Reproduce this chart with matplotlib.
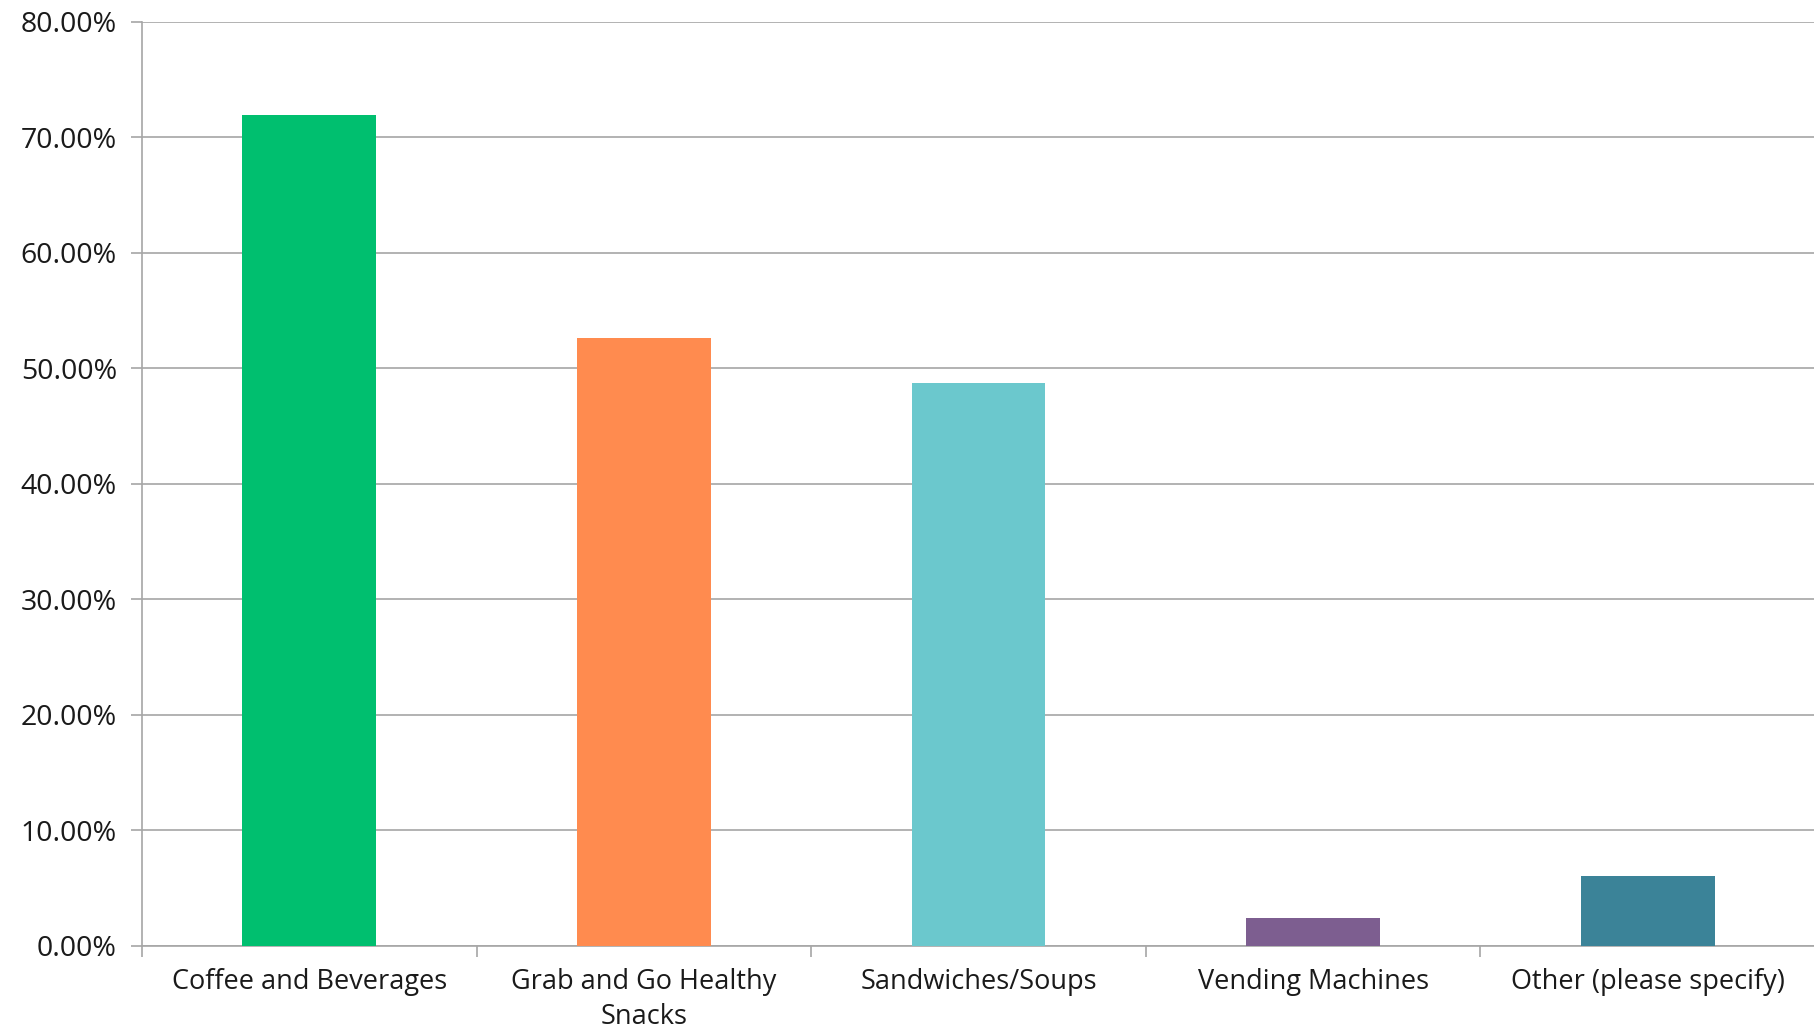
import matplotlib.pyplot as plt
import matplotlib.ticker as ticker
import numpy as np

categories = ['Coffee and Beverages', 'Grab and Go Healthy\nSnacks', 'Sandwiches/Soups',
              'Vending Machines', 'Other (please specify)']
values = [71.9, 52.6, 48.7, 2.4, 6.1]
colors = ['#00BF6F', '#FF8B4F', '#6BC8CD', '#7D5E90', '#3B8398']

plt.rcParams['font.family'] = ['Open Sans', 'DejaVu Sans']

fig = plt.figure(figsize=(18.15, 10.28), dpi=100)
ax = fig.add_axes([142 / 1815, 1 - 946 / 1028, 1 - 142 / 1815, (946 - 21.5) / 1028])

x = np.arange(len(categories))
ax.bar(x, values, width=0.40, color=colors, zorder=3)

ax.set_xlim(-0.5, len(categories) - 0.5)
ax.set_ylim(0, 80)
ax.yaxis.set_major_locator(ticker.MultipleLocator(10))
ax.yaxis.set_major_formatter(ticker.FuncFormatter(lambda v, p: '%.2f%%' % v))
ax.grid(axis='y', color='#a6a6a6', linewidth=1.2, zorder=0)

ax.set_xticks(x)
ax.set_xticklabels(categories, fontsize=19.5, color='#1a1a1a', linespacing=1.3, va='top')
ax.set_xticks(np.arange(len(categories) + 1) - 0.5, minor=True)
ax.tick_params(axis='x', which='major', length=0, pad=16)
ax.tick_params(axis='x', which='minor', length=8, color='#a6a6a6', width=1.2)
ax.tick_params(axis='y', length=8, color='#a6a6a6', width=1.2, labelsize=20.5,
               labelcolor='#1a1a1a', pad=10)

for s in ['top', 'right']:
    ax.spines[s].set_visible(False)
for s in ['left', 'bottom']:
    ax.spines[s].set_color('#a6a6a6')
    ax.spines[s].set_linewidth(1.2)

fig.savefig('out.png', dpi=100)
